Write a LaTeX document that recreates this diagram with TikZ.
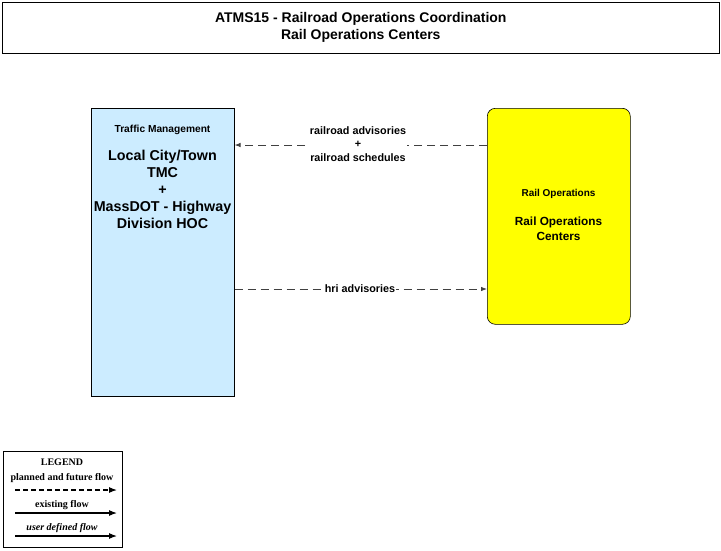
\documentclass[tikz,border=0pt]{standalone}
\usepackage{fontspec}
\setmainfont{Liberation Sans}
\newfontfamily\serifleg{Liberation Serif}
\usetikzlibrary{arrows.meta}
\definecolor{tmcblue}{RGB}{204,236,255}
\definecolor{railyellow}{RGB}{255,255,0}
\begin{document}
\begin{tikzpicture}[x=1pt,y=-1pt,
  flow/.style={draw=black!75,line width=0.8pt,-{Latex[length=6pt,width=4.5pt]}},
  dflow/.style={flow,dash pattern=on 8pt off 5pt},
  legflow/.style={draw=black,line width=1.1pt,-{Latex[length=8pt,width=6pt]}},
  lbl/.style={font=\bfseries\fontsize{10.8}{13.5}\selectfont,align=center,inner sep=1pt},
  legtxt/.style={font=\serifleg\bfseries\fontsize{10}{12}\selectfont,inner sep=0pt}]
\useasboundingbox (0,0) rectangle (721,550);
% title
\node[draw,line width=0.6pt,minimum width=717pt,minimum height=51pt,anchor=north west,
  font=\bfseries\fontsize{14}{17}\selectfont,align=center] (title) at (2,2)
  {ATMS15 - Railroad Operations Coordination\\Rail Operations Centers};
% left box
\node[draw,fill=tmcblue,line width=0.6pt,minimum width=143pt,minimum height=288pt,anchor=north west] (tmc) at (91,108) {};
\node[font=\bfseries\fontsize{10.2}{12}\selectfont] (tmccat) at (162.5,130) {Traffic Management};
\node[font=\bfseries\fontsize{14.3}{17}\selectfont,align=center,anchor=north] (tmcname) at (162.5,147)
  {Local City/Town\\TMC\\+\\MassDOT - Highway\\Division HOC};
% right box
\node[draw,fill=railyellow,line width=0.6pt,rounded corners=8pt,minimum width=143pt,minimum height=216pt,anchor=north west] (rail) at (487,108) {};
\node[font=\bfseries\fontsize{10}{12}\selectfont] (railcat) at (558.5,194) {Rail Operations};
\node[font=\bfseries\fontsize{11.8}{15}\selectfont,align=center,anchor=north] (railname) at (558.5,213)
  {Rail Operations\\Centers};
% flows
\coordinate (a1s) at (rail.west |- 0,145);
\coordinate (a1e) at (tmc.east |- 0,145);
\draw[dflow] (a1s) -- (a1e);
\node[lbl,fill=white] (l1) at (358,144) {railroad advisories\\+\\railroad schedules};
\coordinate (a2s) at (tmc.east |- 0,289);
\coordinate (a2e) at (rail.west |- 0,289);
\draw[dflow] (a2s) -- (a2e);
\node[lbl,fill=white] (l2) at (360,288.5) {hri advisories};
% legend
\node[draw,line width=0.6pt,minimum width=119pt,minimum height=96pt,anchor=north west] (leg) at (3,451) {};
\node[legtxt] (legt) at (62,462) {LEGEND};
\node[legtxt] (leg1) at (62,478) {planned and future flow};
\coordinate (p1s) at (15,490); \coordinate (p1e) at (117,490);
\draw[legflow,dash pattern=on 5pt off 3pt] (p1s) -- (p1e);
\node[legtxt] (leg2) at (62,505) {existing flow};
\coordinate (p2s) at (15,513); \coordinate (p2e) at (117,513);
\draw[legflow] (p2s) -- (p2e);
\node[legtxt,font=\serifleg\bfseries\itshape\fontsize{10}{12}\selectfont] (leg3) at (62,528) {user defined flow};
\coordinate (p3s) at (15,536); \coordinate (p3e) at (117,536);
\draw[legflow] (p3s) -- (p3e);
\end{tikzpicture}
\end{document}
